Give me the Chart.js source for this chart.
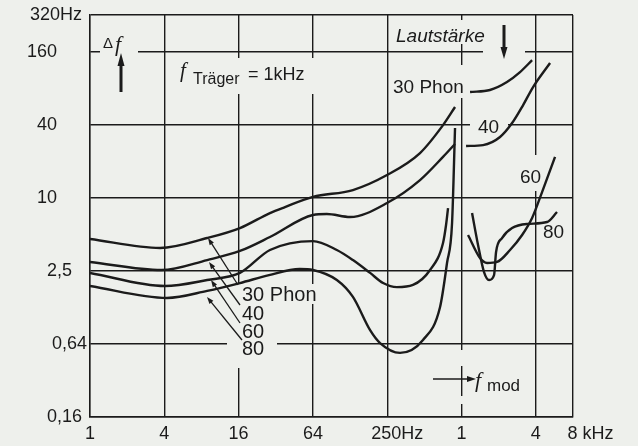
<!DOCTYPE html>
<html>
<head>
<meta charset="utf-8">
<script src="https://cdn.jsdelivr.net/npm/chart.js@4.4.0/dist/chart.umd.min.js"></script>
<style>
  html, body { margin: 0; padding: 0; background: #eef0ec; }
  canvas { display: block; }
</style>
</head>
<body>
<canvas id="c" width="638" height="446"></canvas>
<script>
// Achsen
const xTicks = [1, 4, 16, 64, 256, 1024, 4096, 8192];
const xTickLabels = ['1', '4', '16', '64', '    250Hz', '1', '4', '       8 kHz'];
const yTicks = [0.16, 0.64, 2.56, 10.24, 40.96, 163.84, 327.68];
const yTickLabels = ['0,16 ', '0,64', '2,5   ', '10      ', '40      ', '160      ', '320Hz '];

// Kurven unterhalb 1 kHz (fmod in Hz, delta f in Hz)
const f30a = [1, 3.7, 8.9, 16.4, 28.7, 38, 64, 135, 255, 472, 725, 907];
const d30a = [4.68, 3.95, 4.77, 5.76, 7.66, 8.58, 10.4, 11.85, 15.75, 23.9, 40.6, 57.2];
const f40a = [1, 3.8, 8.9, 16.4, 28.7, 64, 83, 128, 255, 472, 725, 907];
const d40a = [3.03, 2.6, 3.14, 3.73, 4.86, 7.38, 7.52, 7.1, 9.26, 14.3, 22.2, 28.4];
const f60a = [1, 4.05, 8.9, 16.4, 28.7, 64, 100, 135, 186, 237, 307, 414, 569, 725, 767, 796];
const d60a = [2.46, 1.92, 2.15, 2.46, 3.8, 4.5, 3.8, 3.14, 2.46, 2.03, 1.88, 1.96, 2.6, 4.34, 6.1, 8.42];
const f80a = [1, 4.2, 8.9, 16.4, 28.2, 50, 64, 100, 135, 186, 224, 325, 499, 686, 781, 858, 907];
const d80a = [1.92, 1.53, 1.75, 2.03, 2.36, 2.65, 2.6, 2.15, 1.56, 0.83, 0.65, 0.54, 0.69, 1.29, 2.97, 6.34, 38.4];

// Kurven oberhalb 1 kHz
const f30b = [1200, 1740, 2390, 3050, 3820];
const d30b = [76, 79, 92, 111, 139];
const f40b = [1114, 1530, 2100, 2630, 3230, 3890, 5340];
const d40b = [27.3, 27.8, 32.4, 42.2, 59.4, 83.6, 132];
const f60b = [1156, 1446, 1648, 1986, 2530, 3170, 3820, 4600, 5860];
const d60b = [5.05, 3.26, 2.97, 3.03, 3.8, 5.05, 6.97, 11.4, 22.2];
const f80b = [1246, 1393, 1558, 1711, 1878, 1950, 2180, 2630, 3480, 5050, 6080];
const d80b = [7.66, 4.18, 2.5, 2.15, 2.36, 3.66, 4.77, 5.76, 6.22, 6.46, 7.81];

const bg = '#eef0ec';
const ink = '#1b1b1b';
const SANS = '"Liberation Sans", Arial, sans-serif';
const SERIF = '"Liberation Serif", serif';

function curve(f, d) {
    return {
        data: f.map((x, i) => ({ x: x, y: d[i] })),
        borderColor: ink,
        borderWidth: 2.4,
        pointRadius: 0,
        fill: false,
        cubicInterpolationMode: 'monotone'
    };
}

function arrow(ctx, x1, y1, x2, y2, len, half, lw) {
    const a = Math.atan2(y2 - y1, x2 - x1);
    const c = Math.cos(a), s = Math.sin(a);
    ctx.lineWidth = lw;
    ctx.beginPath();
    ctx.moveTo(x1, y1);
    ctx.lineTo(x2 - c * len * 0.8, y2 - s * len * 0.8);
    ctx.stroke();
    ctx.beginPath();
    ctx.moveTo(x2, y2);
    ctx.lineTo(x2 - c * len + s * half, y2 - s * len - c * half);
    ctx.lineTo(x2 - c * len - s * half, y2 - s * len + c * half);
    ctx.closePath();
    ctx.fill();
}

// Luecken im Gitter hinter den Beschriftungen
const gaps = [
    [100, 33, 38, 62], [176, 58, 145, 36], [390, 20, 100, 24], [483, 20, 42, 46],
    [390, 65, 82, 33], [470, 112, 38, 26], [516, 155, 30, 36], [541, 224, 28, 17],
    [236, 284, 80, 20], [227, 302, 50, 66], [455, 350, 12, 16], [455, 396, 12, 8]
];

const paper = {
    id: 'paper',
    beforeDraw(chart) {
        const ctx = chart.ctx;
        ctx.save();
        ctx.fillStyle = bg;
        ctx.fillRect(0, 0, chart.width, chart.height);
        ctx.restore();
    },
    beforeDatasetsDraw(chart) {
        const ctx = chart.ctx;
        ctx.save();
        ctx.fillStyle = bg;
        gaps.forEach(g => ctx.fillRect(g[0], g[1], g[2], g[3]));
        ctx.restore();
    },
    afterDatasetsDraw(chart) {
        const ctx = chart.ctx;
        ctx.save();
        ctx.fillStyle = ink;
        ctx.strokeStyle = ink;
        ctx.textBaseline = 'alphabetic';

        ctx.font = '15px ' + SANS;
        ctx.fillText('\u0394', 103, 48);
        ctx.font = 'italic 22px ' + SERIF;
        ctx.fillText('f', 115, 51);
        arrow(ctx, 121, 92, 121, 53, 13, 3.5, 3);

        ctx.font = 'italic 21px ' + SERIF;
        ctx.fillText('f', 180, 77);
        ctx.font = '16px ' + SANS;
        ctx.fillText('Tr\u00e4ger', 193, 84);
        ctx.font = '18px ' + SANS;
        ctx.fillText('= 1kHz', 248, 80);

        ctx.font = 'italic 19px ' + SANS;
        ctx.fillText('Lautst\u00e4rke', 396, 42);
        arrow(ctx, 504, 25, 504, 59, 12, 3.5, 3);

        ctx.font = '19px ' + SANS;
        ctx.fillText('30 Phon', 393, 93);
        ctx.fillText('40', 478, 133);
        ctx.fillText('60', 520, 183);
        ctx.fillText('80', 543, 238);

        ctx.font = '20px ' + SANS;
        ctx.fillText('30 Phon', 242, 301);
        ctx.fillText('40', 242, 320);
        ctx.fillText('60', 242, 338);
        ctx.fillText('80', 242, 355);
        arrow(ctx, 238, 285, 208, 238, 7, 2.5, 1.3);
        arrow(ctx, 240, 305, 209, 262, 7, 2.5, 1.3);
        arrow(ctx, 240, 323, 211, 280, 7, 2.5, 1.3);
        arrow(ctx, 242, 340, 207, 297, 7, 2.5, 1.3);

        arrow(ctx, 433, 379, 476, 379, 9, 3, 1.5);
        ctx.font = 'italic 22px ' + SERIF;
        ctx.fillText('f', 475, 387);
        ctx.font = '17px ' + SANS;
        ctx.fillText('mod', 487, 391);
        ctx.restore();
    }
};

new Chart(document.getElementById('c'), {
    type: 'line',
    data: {
        datasets: [
            curve(f30a, d30a), curve(f40a, d40a), curve(f60a, d60a), curve(f80a, d80a),
            curve(f30b, d30b), curve(f40b, d40b), curve(f60b, d60b), curve(f80b, d80b)
        ]
    },
    options: {
        responsive: false,
        animation: false,
        devicePixelRatio: 1,
        layout: { padding: { top: 15, right: 65, bottom: 0, left: 0 } },
        plugins: { legend: { display: false }, tooltip: { enabled: false } },
        scales: {
            x: {
                type: 'logarithmic',
                min: 1,
                max: 8192,
                afterBuildTicks: (scale) => { scale.ticks = xTicks.map(v => ({ value: v })); },
                afterFit: (scale) => { scale.height = 29; },
                ticks: {
                    autoSkip: false,
                    maxRotation: 0,
                    padding: 6,
                    color: ink,
                    font: { family: 'Liberation Sans', size: 18 },
                    callback: (v) => xTickLabels[xTicks.indexOf(v)]
                },
                grid: { color: ink, lineWidth: 1.4, drawTicks: false },
                border: { display: true, color: ink, width: 1.4 }
            },
            y: {
                type: 'logarithmic',
                min: 0.16,
                max: 327.68,
                afterBuildTicks: (scale) => { scale.ticks = yTicks.map(v => ({ value: v })); },
                afterFit: (scale) => { scale.width = 90; },
                ticks: {
                    autoSkip: false,
                    padding: 3,
                    color: ink,
                    font: { family: 'Liberation Sans', size: 18 },
                    callback: (v) => yTickLabels[yTicks.indexOf(v)]
                },
                grid: { color: ink, lineWidth: 1.4, drawTicks: false },
                border: { display: true, color: ink, width: 1.4 }
            }
        }
    },
    plugins: [paper]
});
</script>
</body>
</html>
